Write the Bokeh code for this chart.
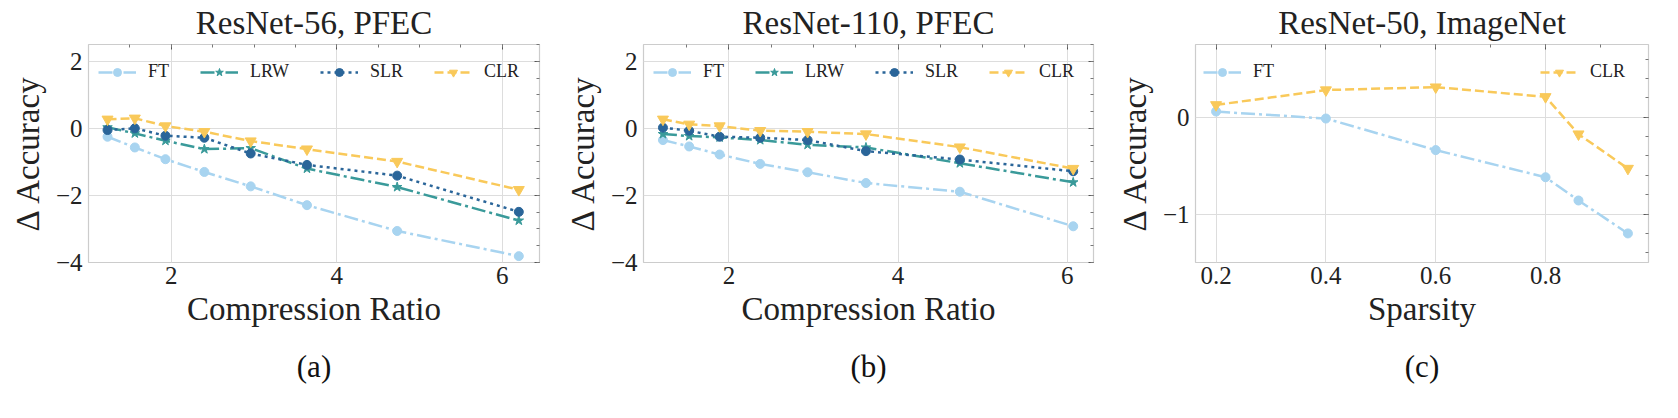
from bokeh.plotting import figure
from bokeh.layouts import row
from bokeh.models import (LinearAxis, FixedTicker, Legend, LegendItem, Title, Range1d,
                          CustomLabelingPolicy)
from bokeh.embed import file_html
from bokeh.resources import INLINE

# values
# (a) ResNet-56, PFEC
ratio_56 = [1.23, 1.56, 1.93, 2.40, 2.96, 3.64, 4.73, 6.20]
ft_56 = [-0.25, -0.57, -0.92, -1.30, -1.73, -2.29, -3.06, -3.81]
lrw_56 = [0.03, -0.15, -0.37, -0.62, -0.59, -1.20, -1.75, -2.75]
slr_56 = [-0.05, 0.00, -0.22, -0.28, -0.75, -1.09, -1.41, -2.49]
clr_56 = [0.27, 0.30, 0.07, -0.10, -0.38, -0.62, -0.99, -1.83]

# (b) ResNet-110, PFEC
ratio_110 = [1.22, 1.53, 1.89, 2.37, 2.93, 3.62, 4.73, 6.07]
ft_110 = [-0.35, -0.54, -0.78, -1.06, -1.31, -1.63, -1.89, -2.92]
lrw_110 = [-0.17, -0.23, -0.27, -0.35, -0.49, -0.57, -1.04, -1.61]
slr_110 = [0.02, -0.07, -0.25, -0.28, -0.35, -0.68, -0.93, -1.28]
clr_110 = [0.27, 0.12, 0.07, -0.07, -0.10, -0.17, -0.56, -1.20]

# (c) ResNet-50, ImageNet
sparsity = [0.2, 0.4, 0.6, 0.8, 0.86, 0.95]
ft_50 = [0.058, -0.014, -0.34, -0.62, -0.86, -1.20]
clr_50 = [0.127, 0.28, 0.31, 0.21, -0.175, -0.53]

FONT = "Liberation Serif"
TXT = "#222222"
GRID = "#dddddd"

# name: (colour, dash, marker, marker size)
STYLE = {
    "FT": ("#a8d4f0", "14 4 3 4", "circle", 9),
    "LRW": ("#3a9a9a", "14 4 3 4", "star", 10),
    "SLR": ("#2a6599", "3 4", "circle", 9),
    "CLR": ("#f9c95a", "9 4", "inverted_triangle", 11),
}

# tick marks only, no labels, on the top and right edges
NO_LABELS = CustomLabelingPolicy(code="return new indices.constructor(indices.size)")


def panel(title, xlabel, letter, x_range, y_range, xticks, xminor, yticks, yminor,
          yover, left, right, fw):
    p = figure(frame_width=fw, frame_height=218, output_backend="svg",
               toolbar_location=None, x_range=Range1d(*x_range),
               y_range=Range1d(*y_range),
               min_border_left=left, min_border_right=right,
               min_border_top=44, min_border_bottom=100)
    p.title.text = title
    p.title.align = "center"
    p.title.text_font = FONT
    p.title.text_font_size = "33px"
    p.title.text_font_style = "normal"
    p.title.text_color = TXT
    p.title.standoff = 0
    p.outline_line_color = "#cccccc"
    p.outline_line_width = 1.2

    p.xaxis.ticker = FixedTicker(ticks=xticks)
    p.yaxis.ticker = FixedTicker(ticks=yticks)
    p.yaxis.major_label_overrides = yover
    for ax in (p.xaxis, p.yaxis):
        ax.axis_line_color = None
        ax.major_tick_out = 0
        ax.major_tick_in = 0
        ax.minor_tick_out = 0
        ax.minor_tick_in = 0
        ax.major_label_text_font = FONT
        ax.major_label_text_font_size = "25px"
        ax.major_label_text_color = TXT
        ax.axis_label_text_font = FONT
        ax.axis_label_text_font_size = "33px"
        ax.axis_label_text_font_style = "normal"
        ax.axis_label_text_color = TXT
    p.xaxis.axis_label = xlabel
    p.yaxis.axis_label = "\u0394 Accuracy"
    p.xaxis.major_label_standoff = 4
    p.yaxis.major_label_standoff = 6
    p.xaxis.axis_label_standoff = 4
    p.yaxis.axis_label_standoff = 7
    p.xgrid.grid_line_color = GRID
    p.ygrid.grid_line_color = GRID

    top = LinearAxis(ticker=FixedTicker(ticks=xticks, minor_ticks=xminor))
    rgt = LinearAxis(ticker=FixedTicker(ticks=yticks, minor_ticks=yminor))
    for ax in (top, rgt):
        ax.axis_line_color = None
        ax.major_label_policy = NO_LABELS
        ax.major_label_text_font_size = "1px"
        ax.major_label_standoff = 0
        ax.axis_label_standoff = 0
        ax.major_tick_in = 5
        ax.major_tick_out = 0
        ax.minor_tick_in = 3
        ax.minor_tick_out = 0
        ax.major_tick_line_color = "#555555"
        ax.minor_tick_line_color = "#777777"
    p.add_layout(top, "above")
    p.add_layout(rgt, "right")

    p.add_layout(Title(text=letter, align="center", text_font=FONT,
                       text_font_size="31px", text_font_style="normal",
                       text_color="#111111", standoff=34), "below")
    return p


def series(p, name, x, y):
    color, dash, marker, size = STYLE[name]
    ln = p.line(x, y, line_color=color, line_width=2.5, line_dash=dash)
    mk = p.scatter(x, y, marker=marker, size=size, fill_color=color,
                   line_color=color)
    return LegendItem(label=name, renderers=[ln, mk])


def legend(items, loc, spacing=31):
    lg = Legend(items=items, location=loc, orientation="horizontal",
                spacing=spacing, label_standoff=12, glyph_width=38, glyph_height=20,
                label_height=20, margin=0, padding=6, background_fill_alpha=0,
                border_line_color=None, label_text_font=FONT,
                label_text_font_size="18px", label_text_color=TXT)
    return lg


y_ticks = [-4, -2, 0, 2]
y_minor = [-4, -3.5, -3, -2.5, -2, -1.5, -1, -0.5, 0, 0.5, 1, 1.5, 2, 2.5]
y_over = {-4: "\u22124", -2: "\u22122", 0: "0", 2: "2"}
x_ticks = [2, 4, 6]
x_minor = [1.5, 2, 2.5, 3, 3.5, 4, 4.5, 5, 5.5, 6]

p1 = panel("ResNet-56, PFEC", "Compression Ratio", "(a)", (1.0, 6.45), (-4, 2.5),
           x_ticks, x_minor, y_ticks, y_minor, y_over, 88, 16, 451)
items1 = [series(p1, n, ratio_56, v) for n, v in
          (("FT", ft_56), ("LRW", lrw_56), ("SLR", slr_56), ("CLR", clr_56))]
p1.add_layout(legend(items1, (10, 180)))

p2 = panel("ResNet-110, PFEC", "Compression Ratio", "(b)", (0.99, 6.31), (-4, 2.5),
           x_ticks, x_minor, y_ticks, y_minor, y_over, 88, 16, 450)
items2 = [series(p2, n, ratio_110, v) for n, v in
          (("FT", ft_110), ("LRW", lrw_110), ("SLR", slr_110), ("CLR", clr_110))]
p2.add_layout(legend(items2, (10, 180)))

p3 = panel("ResNet-50, ImageNet", "Sparsity", "(c)", (0.1625, 0.9875), (-1.5, 0.75),
           [0.2, 0.4, 0.6, 0.8], [0.2, 0.3, 0.4, 0.5, 0.6, 0.7, 0.8, 0.9],
           [-1, 0], [-1.4, -1.2, -1, -0.8, -0.6, -0.4, -0.2, 0, 0.2, 0.4, 0.6],
           {-1: "\u22121", 0: "0"}, 86, 6, 453)
ft_item = series(p3, "FT", sparsity, ft_50)
clr_item = series(p3, "CLR", sparsity, clr_50)
p3.add_layout(legend([ft_item, clr_item], (8, 180), spacing=266))

layout = row(p1, p2, p3)
open("out.html", "w").write(file_html(layout, INLINE))
